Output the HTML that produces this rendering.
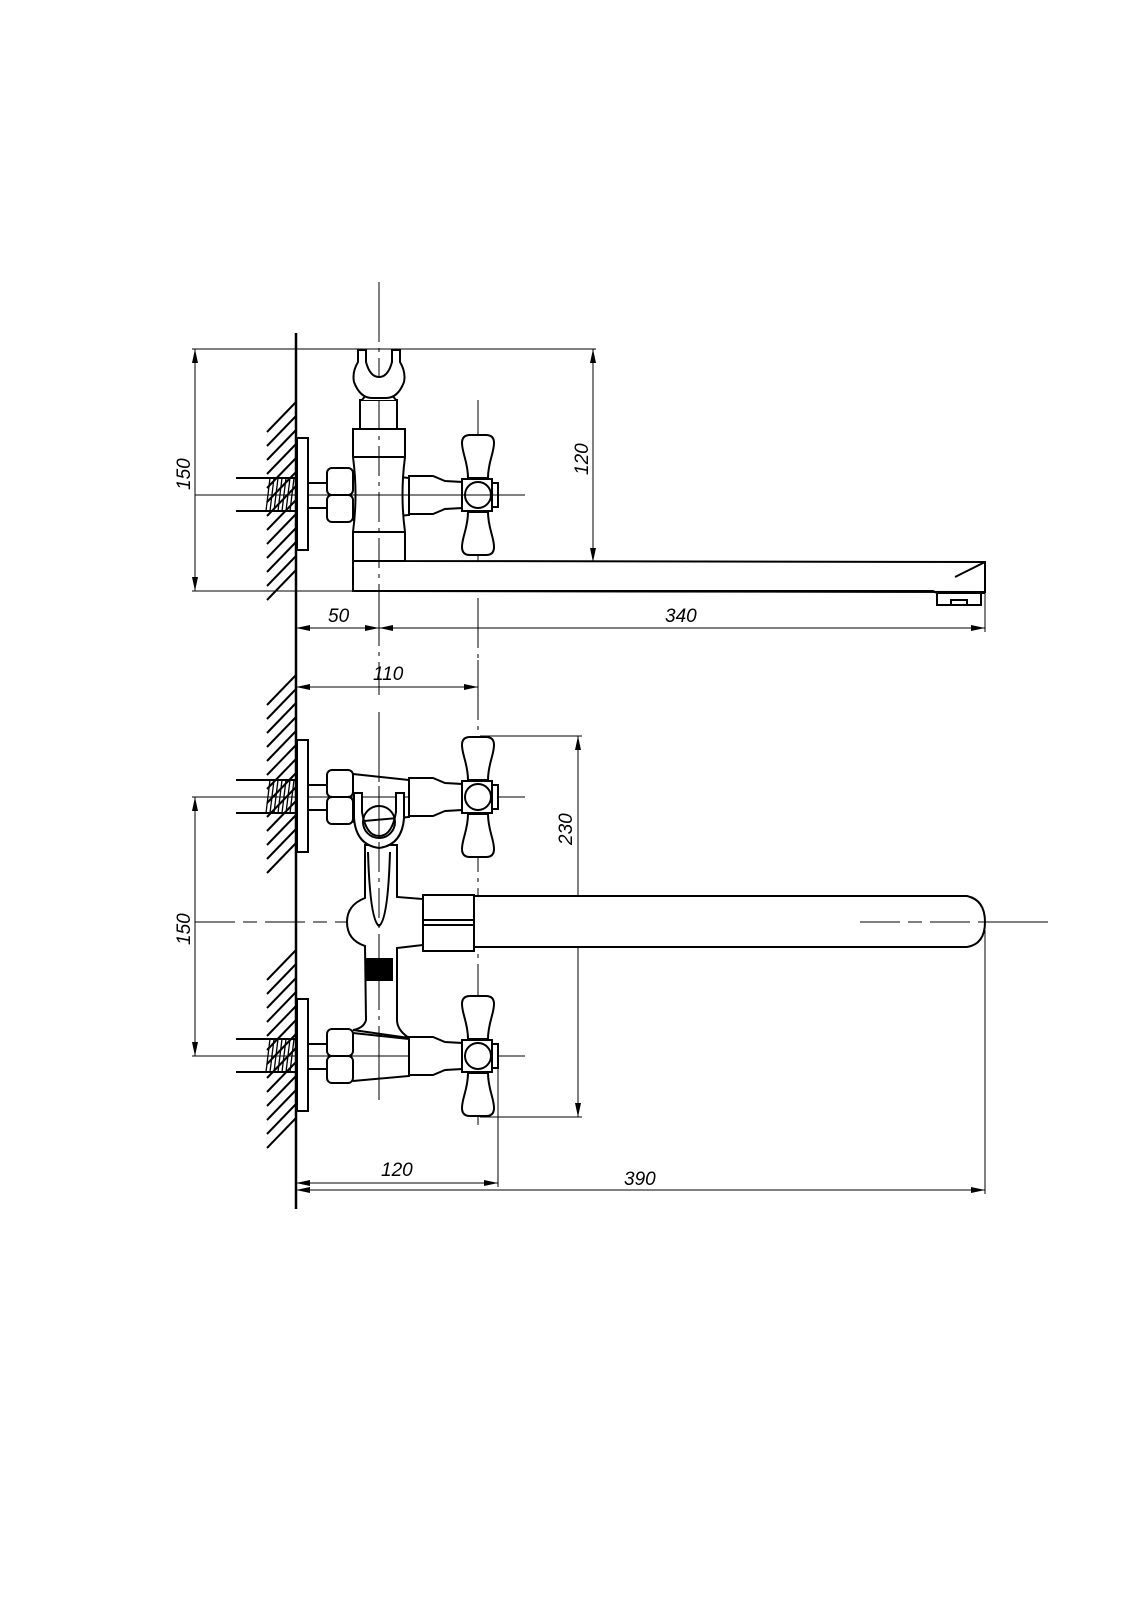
<!DOCTYPE html>
<html><head><meta charset="utf-8"><style>html,body{margin:0;padding:0;background:#fff}svg{display:block}</style></head>
<body>
<svg width="1131" height="1600" viewBox="0 0 1131 1600" xmlns="http://www.w3.org/2000/svg" font-family="Liberation Sans, sans-serif">
<defs>
<g id="hatch" stroke="#000" stroke-width="2">
<line x1="267" y1="30" x2="296" y2="0"/><line x1="267" y1="44" x2="296" y2="14"/><line x1="267" y1="58" x2="296" y2="28"/><line x1="267" y1="72" x2="296" y2="42"/><line x1="267" y1="86" x2="296" y2="56"/><line x1="267" y1="100" x2="296" y2="70"/><line x1="267" y1="114" x2="296" y2="84"/><line x1="267" y1="128" x2="296" y2="98"/><line x1="267" y1="142" x2="296" y2="112"/><line x1="267" y1="156" x2="296" y2="126"/><line x1="267" y1="170" x2="296" y2="140"/><line x1="267" y1="184" x2="296" y2="154"/><line x1="267" y1="198" x2="296" y2="168"/>
</g>
<g id="handle" fill="#fff" stroke="#000" stroke-width="2">
<path d="M-10,-17 C-10,-33 -16,-42 -16,-52 Q-16,-60 -8,-60 L8,-60 Q16,-60 16,-52 C16,-42 10,-33 10,-17 Z"/>
<path d="M-10,17 C-10,33 -16,42 -16,52 Q-16,60 -8,60 L8,60 Q16,60 16,52 C16,42 10,33 10,17 Z"/>
<rect x="14" y="-12" width="6" height="24"/>
<rect x="-16" y="-16" width="30" height="32"/>
<circle cx="0" cy="0" r="13"/>
</g>
<g id="valve" fill="#fff" stroke="#000" stroke-width="2">
<line x1="236" y1="-17" x2="296" y2="-17"/><line x1="236" y1="16" x2="296" y2="16"/>
<g stroke-width="1.3"><line x1="266" y1="16" x2="270" y2="-17"/><line x1="270" y1="16" x2="274" y2="-17"/><line x1="274" y1="16" x2="278" y2="-17"/><line x1="278" y1="16" x2="282" y2="-17"/><line x1="282" y1="16" x2="286" y2="-17"/><line x1="286" y1="16" x2="290" y2="-17"/><line x1="290" y1="16" x2="294" y2="-17"/></g>
<rect x="297" y="-57" width="11" height="112"/>
<line x1="308" y1="-12" x2="327" y2="-12"/><line x1="308" y1="13" x2="327" y2="13"/>
<rect x="327" y="-27" width="26" height="27" rx="5"/><rect x="327" y="0" width="26" height="27" rx="5"/>
<path d="M353,-23 L409,-17 L409,20 L353,25" fill="none"/>
<path d="M409,-19 L433,-19 L445,-14 L462,-13 L462,13 L445,14 L433,19 L409,19 Z"/>
</g>
<marker id="ar" markerWidth="14" markerHeight="6" refX="14" refY="3" orient="auto-start-reverse" markerUnits="userSpaceOnUse"><path d="M0,0 L14,3 L0,6 Z" fill="#000"/></marker>
</defs>

<line x1="296" y1="333" x2="296" y2="1209" stroke="#000" stroke-width="2.5"/>
<use href="#hatch" transform="translate(0,402)"/>
<use href="#hatch" transform="translate(0,675)"/>
<use href="#hatch" transform="translate(0,950)"/>

<g stroke="#000" stroke-width="1" fill="none">
<line x1="379" y1="282" x2="379" y2="695" stroke-dasharray="60,6,4,6"/>
<line x1="478" y1="400" x2="478" y2="695" stroke-dasharray="50,6,4,6"/>
<line x1="195" y1="495" x2="525" y2="495"/>
<line x1="192" y1="349" x2="596" y2="349"/>
<line x1="192" y1="591" x2="353" y2="591"/>
<line x1="195" y1="349" x2="195" y2="591" marker-start="url(#ar)" marker-end="url(#ar)"/>
<line x1="593" y1="349" x2="593" y2="562" marker-start="url(#ar)" marker-end="url(#ar)"/>
<line x1="985" y1="592" x2="985" y2="632"/>
<line x1="296" y1="628" x2="379" y2="628" marker-start="url(#ar)" marker-end="url(#ar)"/>
<line x1="379" y1="628" x2="985" y2="628" marker-start="url(#ar)" marker-end="url(#ar)"/>
<line x1="296" y1="687" x2="478" y2="687" marker-start="url(#ar)" marker-end="url(#ar)"/>
</g>
<use href="#valve" transform="translate(0,495)"/>
<g fill="#fff" stroke="#000" stroke-width="2">
<path d="M353,429 L405,429 L405,457 Q400,495 405,532 L405,561 L985,562 L985,592 L353,591 L353,532 Q358,495 353,457 Z"/>
<line x1="353" y1="457" x2="405" y2="457"/><line x1="353" y1="532" x2="405" y2="532"/>
<line x1="353" y1="561" x2="405" y2="561"/>
<path d="M353,591 L933,591 L937,593 L985,593" fill="none"/>
<rect x="937" y="593" width="44" height="12"/><rect x="951" y="600" width="16" height="5"/>
<line x1="955" y1="577" x2="985" y2="562"/>
<rect x="360" y="400" width="37" height="29"/>
<path d="M362,400 L372,388 L386,388 L396,400" />
<path d="M358,350 L358,362 Q352,372 354,382 Q360,398 372,398 L386,398 Q398,398 404,382 Q406,372 400,362 L400,350 L392,350 L392,362 Q388,377 379,377 Q370,377 366,362 L366,350 Z"/>
</g>
<use href="#handle" transform="translate(478,495)"/>
<line x1="379" y1="400" x2="379" y2="600" stroke="#000" stroke-width="1" stroke-dasharray="30,6,4,6"/>
<line x1="350" y1="495" x2="525" y2="495" stroke="#000" stroke-width="1"/>

<g stroke="#000" stroke-width="1" fill="none">
<line x1="379" y1="712" x2="379" y2="1100" stroke-dasharray="60,6,4,6"/>
<line x1="478" y1="660" x2="478" y2="1125" stroke-dasharray="60,6,4,6"/>
<line x1="195" y1="922" x2="1048" y2="922" stroke-dasharray="40,8,14,8"/>
<line x1="230" y1="797" x2="525" y2="797"/>
<line x1="230" y1="1056" x2="525" y2="1056"/>
<line x1="192" y1="797" x2="296" y2="797"/>
<line x1="192" y1="1056" x2="296" y2="1056"/>
<line x1="195" y1="797" x2="195" y2="1056" marker-start="url(#ar)" marker-end="url(#ar)"/>
<line x1="480" y1="736" x2="582" y2="736"/>
<line x1="480" y1="1117" x2="582" y2="1117"/>
<line x1="578" y1="736" x2="578" y2="1117" marker-start="url(#ar)" marker-end="url(#ar)"/>
<line x1="498" y1="1056" x2="498" y2="1187"/>
<line x1="296" y1="1183" x2="498" y2="1183" marker-start="url(#ar)" marker-end="url(#ar)"/>
<line x1="985" y1="930" x2="985" y2="1194"/>
<line x1="296" y1="1190" x2="985" y2="1190" marker-start="url(#ar)" marker-end="url(#ar)"/>
</g>
<use href="#valve" transform="translate(0,797)"/>
<use href="#valve" transform="translate(0,1056)"/>
<g fill="#fff" stroke="#000" stroke-width="2">
<path d="M365,845 L365,898 Q347,905 347,922 Q347,940 365,946 L366,1020 Q364,1028 353,1030 L409,1038 Q397,1030 397,1020 L397,948 L423,945 L423,899 L397,897 L397,845 Z"/>
<path d="M368,852 Q370,920 379,926 Q388,920 390,852" fill="none"/>
<rect x="367" y="959" width="25" height="21" fill="#000"/>
<path d="M474,896 L967,896 Q985,900 985,922 Q985,944 967,947 L474,947 Z"/>
<rect x="423" y="895" width="51" height="56"/>
<line x1="423" y1="920" x2="474" y2="920"/><line x1="423" y1="925" x2="474" y2="925"/>
<path d="M354,793 L362,793 L362,812 Q366,836 379,836 Q392,836 396,812 L396,793 L404,793 L404,818 Q402,845 379,848 Q356,845 354,818 Z"/>
<circle cx="379" cy="822" r="16" fill="none"/>
</g>
<use href="#handle" transform="translate(478,797)"/>
<use href="#handle" transform="translate(478,1056)"/>
<line x1="379" y1="750" x2="379" y2="1100" stroke="#000" stroke-width="1" stroke-dasharray="30,6,4,6"/>
<line x1="860" y1="922" x2="1048" y2="922" stroke="#000" stroke-width="1" stroke-dasharray="40,8,14,8"/>

<g font-size="19" font-style="italic" fill="#000">
<text x="0" y="0" transform="translate(190,490) rotate(-90)">150</text>
<text x="0" y="0" transform="translate(588,475) rotate(-90)">120</text>
<text x="328" y="622">50</text>
<text x="665" y="622">340</text>
<text x="373" y="680">110</text>
<text x="0" y="0" transform="translate(572,845) rotate(-90)">230</text>
<text x="0" y="0" transform="translate(190,945) rotate(-90)">150</text>
<text x="381" y="1176">120</text>
<text x="624" y="1185">390</text>
</g>
</svg>
</body></html>
